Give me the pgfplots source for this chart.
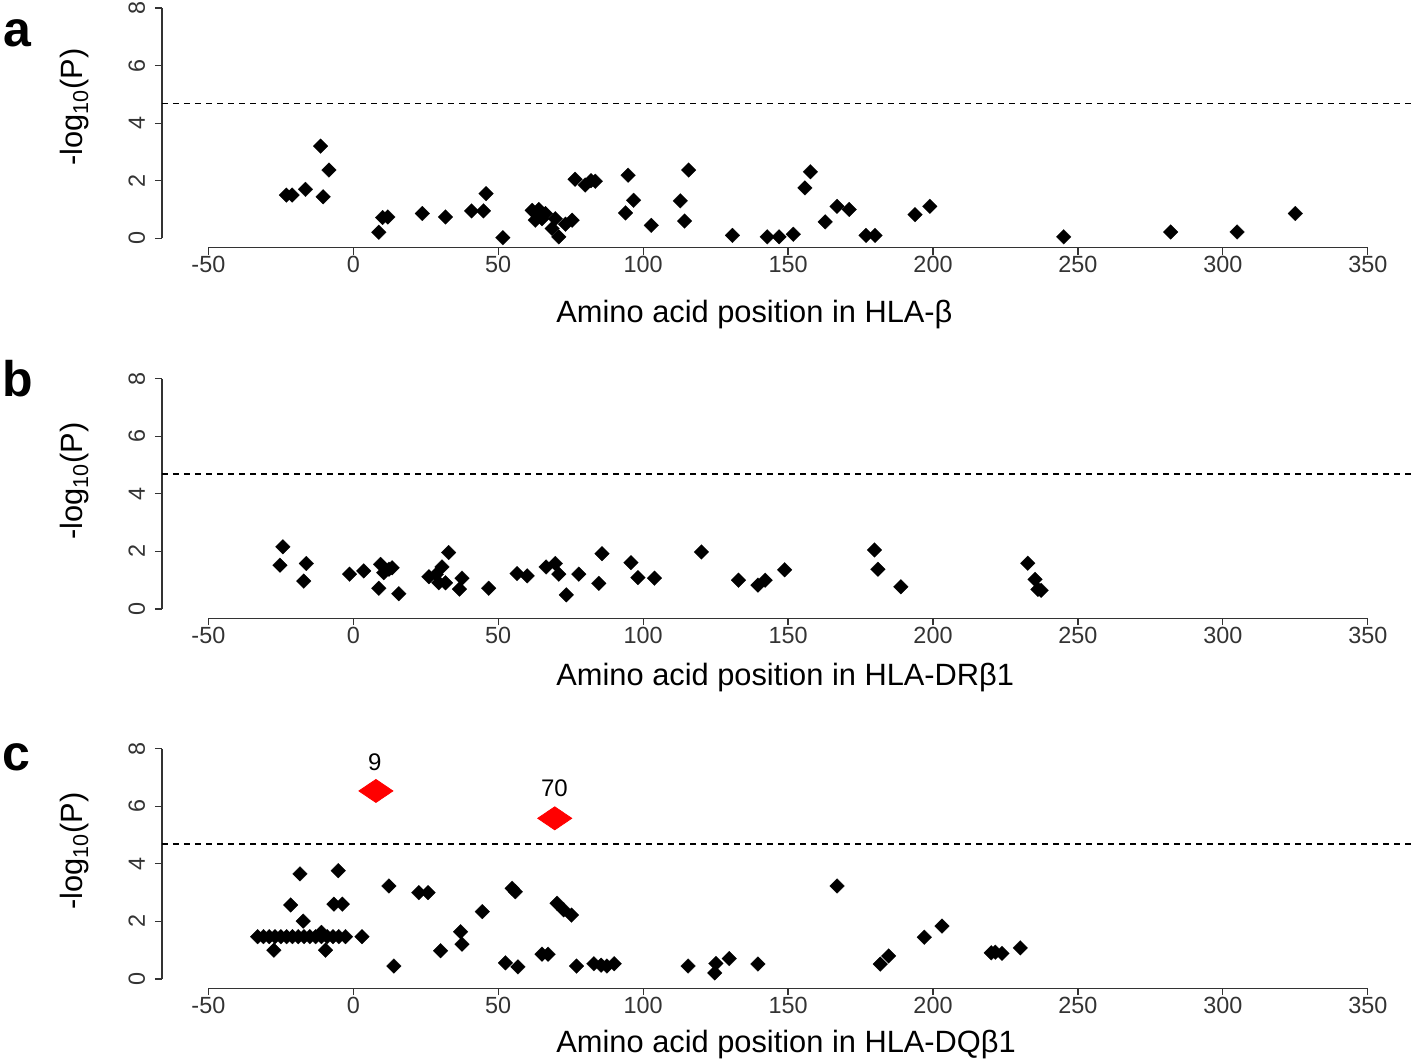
\documentclass[border=0pt]{standalone}
\usepackage{fontspec}
\setmainfont{Liberation Sans}
\usepackage{pgfplots}
\pgfplotsset{compat=1.18}
\definecolor{axgray}{RGB}{51,51,51}
\pgfplotsset{
 rstyle/.style={
  scale only axis, width=626.8pt, height=124.4pt,
  xmin=-66, xmax=366.5, ymin=-0.32, ymax=8.32,
  axis x line*=bottom, axis y line*=left,
  axis line style={draw=none},
  xtick={-50,0,...,350}, ytick={0,2,4,6,8},
  tick align=outside, major tick length=3.5pt,
  tick style={axgray, line width=0.6pt},
  every tick label/.append style={font=\fontsize{11.7}{12}\selectfont, text=axgray},
  /pgf/number format/assume math mode=true,
  xticklabel style={anchor=north, inner sep=0pt, yshift=-0.8pt},
  yticklabel style={rotate=90, anchor=base, inner sep=0pt, yshift=5pt},
  label style={font=\fontsize{15.4}{17}\selectfont},
  ylabel={-log\textsubscript{10}(P)},
  clip=false,
 },
 bmark/.style={only marks, mark=square*, mark size=2.6pt, mark options={rotate=45, fill=black, draw=black, line width=0.1pt}},
 thr/.style={black, dash pattern=on 3pt off 2.5pt, line width=0.6pt, forget plot},
}
\newcommand{\raxes}{%
 \draw[axgray, line width=0.6pt] (axis cs:-50,-0.32) -- (axis cs:350,-0.32);
 \draw[axgray, line width=0.6pt] (axis cs:-66,0) -- (axis cs:-66,8);
}
\begin{document}
\begin{tikzpicture}
\useasboundingbox (-81pt,0pt) rectangle (628pt,-530pt);
% ---------- panel a
\begin{axis}[rstyle, at={(0pt,-123.75pt)}, anchor=south west,
  xlabel={Amino acid position in HLA-β},
  xlabel style={at={(axis description cs:0.309,0)}, anchor=base west, yshift=-37.25pt},
  ylabel style={at={(axis description cs:-0.0694,0.565)}, anchor=center}]
\raxes
\addplot[thr] coordinates {(-66,4.69) (366.5,4.69)};
\addplot[bmark] coordinates {
(-23.1,1.5) (-21.1,1.5) (-16.5,1.70) (-11.3,3.2) (-8.4,2.37) (-10.4,1.44)
(10.1,0.72) (11.9,0.74) (8.8,0.21) (23.8,0.86) (31.8,0.74) (40.8,0.95) (44.9,0.95)
(45.8,1.55) (51.6,0.02) (61.7,0.97) (64.0,1.0) (66.3,0.86) (62.8,0.63) (65.1,0.68)
(69.7,0.68) (68.6,0.34) (70.9,0.05) (73.2,0.49) (75.5,0.63) (76.5,2.05) (80,1.85)
(82,2.0) (83.5,1.98) (94.8,2.19) (96.7,1.32) (93.9,0.88) (102.8,0.45) (115.7,2.37)
(112.8,1.3) (114.3,0.6) (130.8,0.1) (142.8,0.05) (146.9,0.05) (151.8,0.14)
(157.7,2.31) (155.8,1.75) (162.8,0.57) (166.9,1.11) (171.1,1.0) (176.9,0.1)
(180.0,0.1) (193.8,0.82) (198.9,1.11) (245.1,0.05) (282,0.22) (304.9,0.22) (325,0.86)
};
\end{axis}
% ---------- panel b
\begin{axis}[rstyle, at={(0pt,-309.1pt)}, anchor=south west,
  xlabel={Amino acid position in HLA-DRβ1},
  xlabel style={at={(axis description cs:0.309,0)}, anchor=base west, yshift=-33.4pt},
  ylabel style={at={(axis description cs:-0.0694,0.551)}, anchor=center}]
\raxes
\addplot[thr] coordinates {(-66,4.69) (366.5,4.69)};
\addplot[bmark] coordinates {
(-24.3,2.16) (-25.3,1.52) (-16.2,1.58) (-17.1,0.97) (-1.3,1.21) (3.6,1.32) (9.4,1.55)
(12.3,1.38) (13.4,1.43) (10.5,1.26) (8.8,0.72) (15.7,0.53) (26.1,1.12) (28.6,1.2)
(30.6,1.46) (29.5,0.91) (31.8,0.91) (32.9,1.96) (37.5,1.07) (36.6,0.69) (46.7,0.72)
(56.5,1.23) (60.0,1.15) (66.5,1.46) (69.7,1.58) (70.9,1.21) (77.8,1.21) (73.5,0.49)
(85.8,1.92) (84.7,0.89) (95.8,1.61) (98.2,1.09) (103.9,1.07) (120.1,1.98) (132.9,1.0)
(139.6,0.83) (142.1,1.0) (148.8,1.36) (179.8,2.05) (181.0,1.38) (188.9,0.77)
(232.7,1.59) (235.2,1.03) (236.2,0.68) (237.3,0.65)
};
\end{axis}
% ---------- panel c
\begin{axis}[rstyle, at={(0pt,-494.1pt)}, anchor=south west,
  xlabel={Amino acid position in HLA-DQβ1},
  xlabel style={at={(axis description cs:0.309,0)}, anchor=base west, yshift=-31.9pt},
  ylabel style={at={(axis description cs:-0.0694,0.551)}, anchor=center}]
\raxes
\addplot[thr] coordinates {(-66,4.69) (366.5,4.69)};
\addplot[bmark] coordinates {
(-18.4,3.65) (-5.2,3.76) (-21.6,2.57) (-6.7,2.6) (-3.8,2.6) (-17.3,2.01)
(-33,1.47) (-31,1.47) (-29,1.47) (-27,1.47) (-25,1.47) (-23,1.47) (-21,1.47) (-19,1.47)
(-17,1.47) (-15,1.47) (-13,1.47) (-11,1.47) (-9,1.47) (-7,1.47) (-5,1.47) (-2.7,1.47)
(3.0,1.47) (-11,1.62) (-27.4,1.0) (-9.6,1.0)
(12.3,3.23) (22.6,3.0) (25.8,3.0) (14.0,0.45) (30.1,0.98) (37.0,1.64) (37.5,1.21)
(44.5,2.34) (54.8,3.15) (55.9,3.03) (52.5,0.56) (56.8,0.42) (65.1,0.86) (67.2,0.86)
(70.3,2.63) (72.6,2.4) (75.3,2.22) (77.0,0.45) (83.0,0.53) (85.5,0.48) (87.5,0.45)
(90.0,0.53) (115.5,0.45) (125.1,0.54) (124.7,0.21) (129.7,0.71) (139.6,0.52)
(166.9,3.23) (181.8,0.52) (184.7,0.8) (197.0,1.45) (203.1,1.84) (220.1,0.91)
(221.5,0.93) (223.8,0.89) (230.1,1.08)
};
\addplot[only marks, mark=diamond*, mark size=5.75pt, mark options={xscale=1.97, fill=red, draw=red}] coordinates {(7.8,6.53) (69.5,5.58)};
\node[font=\fontsize{12}{12}\selectfont, inner sep=0pt] at (axis cs:7.4,7.53) {9};
\node[font=\fontsize{12}{12}\selectfont, inner sep=0pt] at (axis cs:69.4,6.63) {70};
\end{axis}
% panel letters
\node[anchor=base west, inner sep=0pt, font=\fontsize{25}{25}\selectfont\bfseries] at (-79.5pt,-23.3pt) {a};
\node[anchor=base west, inner sep=0pt, font=\fontsize{25}{25}\selectfont\bfseries] at (-80pt,-198.3pt) {b};
\node[anchor=base west, inner sep=0pt, font=\fontsize{25}{25}\selectfont\bfseries] at (-80pt,-385.3pt) {c};
\end{tikzpicture}
\end{document}
